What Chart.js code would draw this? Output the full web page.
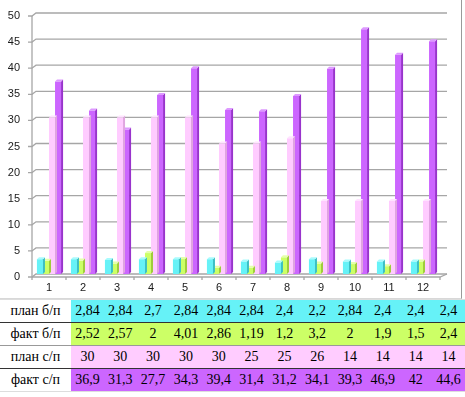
<!DOCTYPE html>
<html>
<head>
<meta charset="utf-8">
<script src="https://cdn.jsdelivr.net/npm/chart.js@4.4.0/dist/chart.umd.min.js"></script>
<style>
  body { margin: 0; background: #fff; }
  #wrap { position: absolute; left: 0; top: 0; width: 461px; height: 298px; border-right: 1px solid #9a9a9a; border-bottom: 1px solid #d8d8d8; }
  #tbl { position: absolute; left: 0; top: 299px; width: 465px; border-collapse: collapse; table-layout: fixed; }
  #tbl td { height: 22px; padding: 0; text-align: center; white-space: nowrap;
            font-family: "Liberation Serif", "DejaVu Serif", serif; font-size: 14px; color: #000; }
  #tbl td.lbl { background: #fff; }
</style>
</head>
<body>
<div id="wrap"><canvas id="chart" width="461" height="298"></canvas></div>
<table id="tbl"></table>
<script>
// categories and series
const categories = ['1','2','3','4','5','6','7','8','9','10','11','12'];
const planBP = [2.84, 2.84, 2.7, 2.84, 2.84, 2.84, 2.4, 2.2, 2.84, 2.4, 2.4, 2.4];
const factBP = [2.52, 2.57, 2, 4.01, 2.86, 1.19, 1.2, 3.2, 2, 1.9, 1.5, 2.4];
const planSP = [30, 30, 30, 30, 30, 25, 25, 26, 14, 14, 14, 14];
const factSP = [36.9, 31.3, 27.7, 34.3, 39.4, 31.4, 31.2, 34.1, 39.3, 46.9, 42, 44.6];
const seriesNames = ['план б/п', 'факт б/п', 'план с/п', 'факт с/п'];

const colors = ['#66f2f7', '#ccff66', '#ffccff', '#cc66ff'];
const sideColors = ['#3cbfc4', '#9fcc3c', '#e0a6e0', '#9933cc'];
const topColors = ['#a8fbfd', '#e6ffaa', '#ffe4ff', '#dd99ff'];
const rowBorders = ['#333', '#999', '#333', '#ddd'];

// data table under the chart
const tbl = document.getElementById('tbl');
let colgroup = '<colgroup><col style="width:71px">';
categories.forEach(() => colgroup += '<col>');
tbl.innerHTML = colgroup + '</colgroup>';
[planBP, factBP, planSP, factSP].forEach((vals, i) => {
  const tr = document.createElement('tr');
  tr.style.borderBottom = '1px solid ' + rowBorders[i];
  let html = '<td class="lbl">' + seriesNames[i] + '</td>';
  vals.forEach(v => {
    html += '<td style="background:' + colors[i] + '">' + String(v).replace('.', ',') + '</td>';
  });
  tr.innerHTML = html;
  tbl.appendChild(tr);
});
tbl.style.borderTop = '1px solid #ddd';

// fake 3d: back wall gridlines, floor, and bar sides/tops
const walls = {
  id: 'walls',
  beforeDatasetsDraw(chart) {
    const ctx = chart.ctx, a = chart.chartArea, y = chart.scales.y, x = chart.scales.x;
    const dx = 4, dy = 3, ext = 7;
    ctx.save();
    ctx.strokeStyle = '#a6a6a6';
    ctx.lineWidth = 1.3;
    y.ticks.forEach(t => {
      const py = y.getPixelForValue(t.value);
      ctx.beginPath();
      ctx.moveTo(a.left - 4, py + dy);
      ctx.lineTo(a.left, py + dy);
      ctx.lineTo(a.left + dx, py);
      ctx.lineTo(a.right + ext, py);
      ctx.stroke();
    });
    // left wall edge
    ctx.beginPath();
    ctx.moveTo(a.left, y.getPixelForValue(y.max) + dy);
    ctx.lineTo(a.left, y.getPixelForValue(0) + dy);
    ctx.stroke();
    // floor front edge
    const fy = y.getPixelForValue(0) + dy;
    ctx.beginPath();
    ctx.moveTo(a.left, fy);
    ctx.lineTo(a.right, fy);
    ctx.lineTo(a.right + ext, fy - dy);
    ctx.stroke();
    // category ticks
    const half = (a.right - a.left) / categories.length / 2;
    for (let i = 0; i <= categories.length; i++) {
      const px = i < categories.length ? x.getPixelForValue(i) - half : x.getPixelForValue(i - 1) + half;
      ctx.beginPath();
      ctx.moveTo(px, fy);
      ctx.lineTo(px, fy + 3);
      ctx.stroke();
    }
    ctx.restore();
  },
  afterDatasetDraw(chart, args) {
    const ctx = chart.ctx, i = args.index;
    const d = 2, dh = 2;
    ctx.save();
    chart.getDatasetMeta(i).data.forEach(bar => {
      const xl = bar.x - bar.width / 2, xr = bar.x + bar.width / 2;
      ctx.fillStyle = sideColors[i];
      ctx.beginPath();
      ctx.moveTo(xr, bar.y);
      ctx.lineTo(xr + d, bar.y - dh);
      ctx.lineTo(xr + d, bar.base - dh);
      ctx.lineTo(xr, bar.base);
      ctx.closePath();
      ctx.fill();
      ctx.fillStyle = topColors[i];
      ctx.beginPath();
      ctx.moveTo(xl, bar.y);
      ctx.lineTo(xl + d, bar.y - dh);
      ctx.lineTo(xr + d, bar.y - dh);
      ctx.lineTo(xr, bar.y);
      ctx.closePath();
      ctx.fill();
    });
    ctx.restore();
  }
};

new Chart(document.getElementById('chart'), {
  type: 'bar',
  data: {
    labels: categories,
    datasets: [planBP, factBP, planSP, factSP].map((vals, i) => ({
      label: seriesNames[i],
      data: vals,
      backgroundColor: colors[i],
      borderWidth: 0,
      categoryPercentage: 0.71,
      barPercentage: 1
    }))
  },
  options: {
    responsive: false,
    animation: false,
    layout: { padding: { top: 13, right: 21, left: 0, bottom: 0 } },
    plugins: { legend: { display: false }, tooltip: { enabled: false } },
    scales: {
      x: {
        grid: { display: false, drawTicks: false },
        border: { display: false },
        ticks: { padding: 7, color: '#1a1a1a', font: { family: 'Liberation Sans', size: 11 } },
        afterFit(s) { s.height = 24; }
      },
      y: {
        min: 0,
        max: 50,
        grid: { display: false, drawTicks: false },
        border: { display: false },
        ticks: { stepSize: 5, padding: 12, labelOffset: 3, color: '#1a1a1a', font: { family: 'Liberation Sans', size: 11 } },
        afterFit(s) { s.width = 32; s.paddingTop = 0; s.paddingBottom = 0; }
      }
    }
  },
  plugins: [walls]
});
</script>
</body>
</html>
